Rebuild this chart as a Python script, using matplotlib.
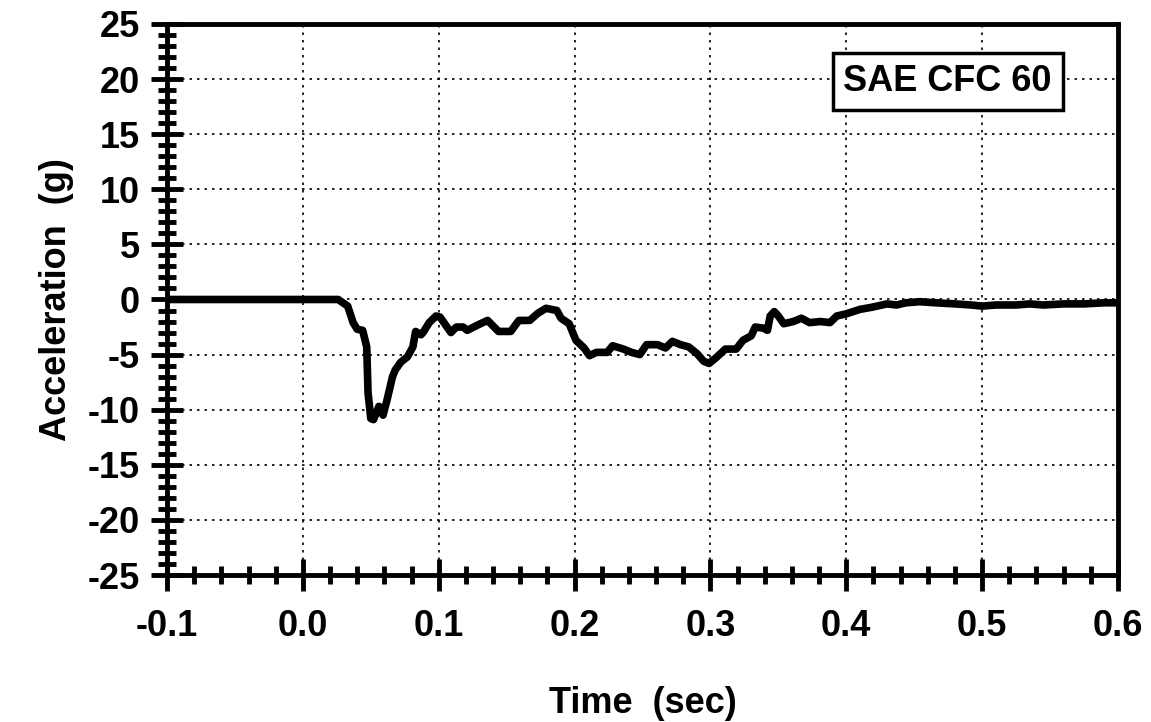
import matplotlib
matplotlib.use('Agg')
import matplotlib.pyplot as plt
from matplotlib.ticker import MultipleLocator, FormatStrFormatter

# time (sec) and acceleration (g)
time_s = [-0.1, 0.0, 0.026, 0.033, 0.037, 0.040, 0.044, 0.047, 0.048, 0.050,
          0.052, 0.056, 0.059, 0.062, 0.066, 0.068, 0.072, 0.077, 0.081, 0.083,
          0.087, 0.089, 0.093, 0.098, 0.101, 0.105, 0.109, 0.113, 0.118, 0.121,
          0.129, 0.136, 0.144, 0.153, 0.159, 0.167, 0.173, 0.179, 0.187, 0.190,
          0.196, 0.201, 0.207, 0.211, 0.216, 0.224, 0.228, 0.236, 0.242, 0.248,
          0.253, 0.261, 0.267, 0.272, 0.278, 0.284, 0.290, 0.295, 0.299, 0.304,
          0.311, 0.319, 0.324, 0.330, 0.333, 0.339, 0.342, 0.344, 0.347, 0.350,
          0.354, 0.361, 0.367, 0.373, 0.381, 0.388, 0.393, 0.400, 0.410, 0.419,
          0.430, 0.437, 0.444, 0.454, 0.466, 0.480, 0.492, 0.500, 0.510, 0.525,
          0.535, 0.545, 0.560, 0.575, 0.590, 0.600]
accel_g = [0.0, 0.0, 0.0, -0.6, -2.1, -2.7, -2.8, -4.3, -8.5, -10.8,
           -10.9, -9.7, -10.5, -9.1, -7.0, -6.4, -5.7, -5.2, -4.3, -2.9,
           -3.2, -2.9, -2.1, -1.5, -1.6, -2.3, -3.0, -2.5, -2.5, -2.8,
           -2.3, -1.9, -2.9, -2.9, -1.9, -1.9, -1.25, -0.8, -1.0, -1.7,
           -2.2, -3.7, -4.4, -5.1, -4.8, -4.8, -4.2, -4.5, -4.8, -5.0,
           -4.1, -4.1, -4.4, -3.8, -4.1, -4.3, -4.9, -5.6, -5.8, -5.3,
           -4.5, -4.5, -3.7, -3.3, -2.5, -2.6, -2.8, -1.5, -1.1, -1.5,
           -2.2, -2.0, -1.7, -2.1, -2.0, -2.1, -1.5, -1.3, -0.9, -0.7,
           -0.4, -0.5, -0.3, -0.2, -0.3, -0.4, -0.5, -0.6, -0.5, -0.5,
           -0.4, -0.5, -0.4, -0.4, -0.3, -0.3]

label_text = 'SAE CFC 60'
fs = 26

plt.rcParams['font.family'] = ['Liberation Sans', 'DejaVu Sans']
plt.rcParams['font.weight'] = 'bold'
plt.rcParams['axes.unicode_minus'] = False

fig = plt.figure(figsize=(11.51, 7.22), dpi=100)
ax = fig.add_axes([0.1451, 0.2036, 0.8262, 0.7632])

ax.plot(time_s, accel_g, color='black', linewidth=5.5, solid_joinstyle='round',
        solid_capstyle='round', zorder=3)

ax.set_xlim(-0.1, 0.6)
ax.set_ylim(-25, 25)

ax.xaxis.set_major_locator(MultipleLocator(0.1))
ax.xaxis.set_minor_locator(MultipleLocator(0.02))
ax.xaxis.set_major_formatter(FormatStrFormatter('%.1f'))
ax.yaxis.set_major_locator(MultipleLocator(5))
ax.yaxis.set_minor_locator(MultipleLocator(1))

ax.tick_params(which='major', direction='inout', length=23, width=3.5,
               labelsize=fs, color='black')
ax.tick_params(which='minor', direction='inout', length=13, width=3.5, color='black')
ax.tick_params(axis='x', which='major', pad=13)
ax.tick_params(axis='y', which='major', pad=8)

for sp in ax.spines.values():
    sp.set_linewidth(3.5)
    sp.set_color('black')

ax.grid(True, which='major', color='black', linestyle=(0, (1.5, 3)), linewidth=1.2)

ax.set_xlabel('Time  (sec)', fontsize=fs, fontweight='bold', labelpad=30)
ax.set_ylabel('Acceleration  (g)', fontsize=fs, fontweight='bold', labelpad=10)

ax.text(0.4746, 19.8, label_text, fontsize=fs, fontweight='bold',
        ha='center', va='center', zorder=4,
        bbox=dict(boxstyle='square,pad=0.3', facecolor='white',
                  edgecolor='black', linewidth=2.5))

fig.savefig('out.png', dpi=100)
